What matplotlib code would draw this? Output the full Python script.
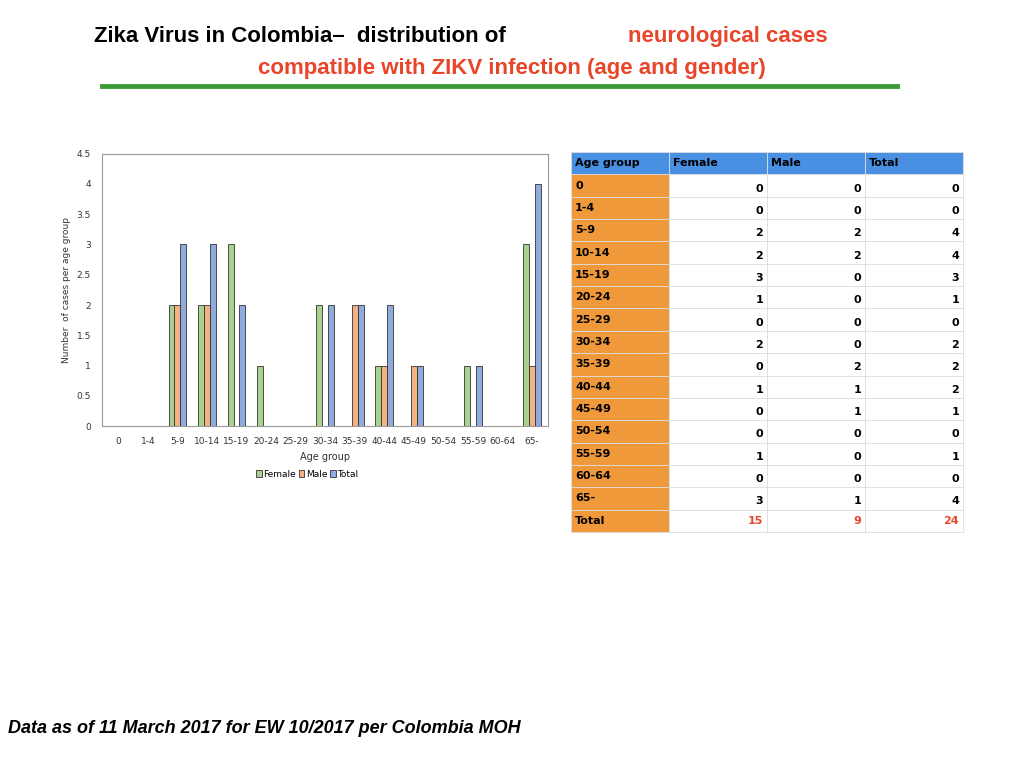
import matplotlib as mpl
mpl.use('Agg')
import matplotlib.pyplot as plt
import numpy as np
from matplotlib.patches import Rectangle

age_groups = ['0', '1-4', '5-9', '10-14', '15-19', '20-24', '25-29', '30-34',
              '35-39', '40-44', '45-49', '50-54', '55-59', '60-64', '65-']
# values as drawn in the bar chart
bar_female = [0, 0, 2, 2, 3, 1, 0, 2, 0, 1, 0, 0, 1, 0, 3]
bar_male = [0, 0, 2, 2, 0, 0, 0, 0, 2, 1, 1, 0, 0, 0, 1]
bar_total = [0, 0, 3, 3, 2, 0, 0, 2, 2, 2, 1, 0, 1, 0, 4]
# values as printed in the table
tab_female = [0, 0, 2, 2, 3, 1, 0, 2, 0, 1, 0, 0, 1, 0, 3]
tab_male = [0, 0, 2, 2, 0, 0, 0, 0, 2, 1, 1, 0, 0, 0, 1]
tab_total = [0, 0, 4, 4, 3, 1, 0, 2, 2, 2, 1, 0, 1, 0, 4]
totals = [15, 9, 24]

fig = plt.figure(figsize=(10.24, 7.68), dpi=100)

# title
fig.text(0.5, 0.953, 'Zika Virus in Colombia\u2013  distribution of ', ha='right',
         va='center', fontsize=16, fontweight='bold', family='Liberation Sans',
         transform=fig.transFigure)
fig.text(0.5 + 0.003 + 0.11, 0.953, 'neurological cases', ha='left', va='center',
         fontsize=16, fontweight='bold', color='#e8462b', family='Liberation Sans')
fig.text(0.5, 0.911, 'compatible with ZIKV infection (age and gender)', ha='center',
         va='center', fontsize=16, fontweight='bold', color='#e8462b',
         family='Liberation Sans')
fig.add_artist(plt.Line2D([0.1, 0.876], [0.888, 0.888], color='#3b9a35', lw=3.5))

# bar chart
ax = fig.add_axes([0.0996, 0.445, 0.436, 0.355])
x = np.arange(len(age_groups))
w = 0.2
ax.bar(x - w, bar_female, w, color='#a9d18e', edgecolor='#333333', lw=0.6, label='Female')
ax.bar(x, bar_male, w, color='#f4b183', edgecolor='#333333', lw=0.6, label='Male')
ax.bar(x + w, bar_total, w, color='#8faadc', edgecolor='#333333', lw=0.6, label='Total')
ax.set_xlim(-0.55, 14.55)
ax.set_ylim(0, 4.5)
ax.set_yticks(np.arange(0, 4.51, 0.5))
ax.set_yticklabels(['0', '0.5', '1', '1.5', '2', '2.5', '3', '3.5', '4', '4.5'])
ax.set_xticks(x)
ax.set_xticklabels(age_groups)
ax.tick_params(length=0, labelsize=6.5, colors='#333333', pad=8)
for s in ax.spines.values():
    s.set_color('#999999')
ax.set_xlabel('Age group', fontsize=7, color='#333333')
ax.set_ylabel('Number  of cases per age group', fontsize=6.5, color='#333333')
ax.legend(loc='upper center', bbox_to_anchor=(0.46, -0.13), ncol=3, frameon=False,
          fontsize=6.5, handlelength=0.6, handleheight=0.8, columnspacing=0.3,
          handletextpad=0.2)

# table
tax = fig.add_axes([0, 0, 1, 1])
tax.set_xlim(0, 1024)
tax.set_ylim(768, 0)
tax.axis('off')
cols = [571, 669, 767, 865, 963]
row_h = 22.35
top = 152
rows = [['Age group', 'Female', 'Male', 'Total']]
for i, g in enumerate(age_groups):
    rows.append([g, str(tab_female[i]), str(tab_male[i]), str(tab_total[i])])
rows.append(['Total'] + [str(t) for t in totals])
for r, row in enumerate(rows):
    y0 = top + r * row_h
    for c in range(4):
        if r == 0:
            fc = '#4a90e2'
        elif c == 0:
            fc = '#f0993a'
        else:
            fc = 'white'
        tax.add_patch(Rectangle((cols[c], y0), cols[c + 1] - cols[c], row_h,
                                facecolor=fc, edgecolor='#dddddd', lw=0.6))
        if r == 0 or c == 0:
            tax.text(cols[c] + 4, y0 + row_h / 2, row[c], ha='left', va='center',
                     fontsize=8, fontweight='bold')
        else:
            tax.text(cols[c + 1] - 4, y0 + row_h / 2 + (3 if r < len(rows) - 1 else 0),
                     row[c], ha='right', va='center', fontsize=8, fontweight='bold',
                     color='#e8462b' if r == len(rows) - 1 else 'black')

fig.text(0.008, 0.045, 'Data as of 11 March 2017 for EW 10/2017 per Colombia MOH',
         fontsize=13, fontweight='bold', style='italic', family='Liberation Sans')

plt.savefig('out.png')
plt.close()
